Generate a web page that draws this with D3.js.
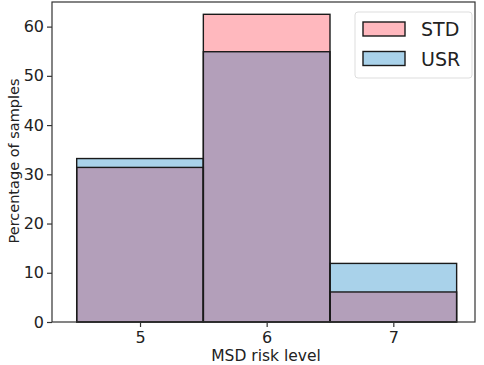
<!DOCTYPE html>
<html>
<head>
<meta charset="utf-8">
<script src="https://cdn.jsdelivr.net/npm/d3@7"></script>
<style>
  body { margin: 0; background: #fff; }
  text { font-family: 'DejaVu Sans', sans-serif; fill: #222; }
</style>
</head>
<body>
<script>
(function () {
  'use strict'

  // Data
  var levels = [5, 6, 7]
  var stdValues = [31.4, 62.5, 6.1]
  var usrValues = [33.2, 54.9, 11.9]
  var seriesNames = ['STD', 'USR']
  var yTicks = [0, 10, 20, 30, 40, 50, 60]

  var colors = { STD: '#ffb8be', USR: '#a9d2ea', both: '#b39fba' }

  var dim = { w: 484, h: 365 }
  var plot = { left: 52, right: 475, top: 2, bottom: 322 }

  var svg = d3.select('body').append('svg')
    .attr('width', dim.w)
    .attr('height', dim.h)

  var x = d3.scaleLinear().domain([4.305, 7.645]).range([plot.left, plot.right])
  var y = d3.scaleLinear().domain([0, 65]).range([plot.bottom, plot.top])

  var rows = levels.map(function (l, i) {
    return { level: l, std: stdValues[i], usr: usrValues[i] }
  })

  var g = svg.append('g')

  function bars (cls, val, fill) {
    return g.selectAll('.' + cls).data(rows).enter().append('rect')
      .attr('class', cls)
      .attr('x', function (d) { return x(d.level - 0.5) })
      .attr('width', function (d) { return x(d.level + 0.5) - x(d.level - 0.5) })
      .attr('y', function (d) { return y(val(d)) })
      .attr('height', function (d) { return y(0) - y(val(d)) })
      .attr('fill', fill)
  }

  bars('std', function (d) { return d.std }, colors.STD)
  bars('usr', function (d) { return d.usr }, colors.USR)
  bars('both', function (d) { return Math.min(d.std, d.usr) }, colors.both)

  // outlines
  bars('edge-std', function (d) { return d.std }, 'none')
    .attr('stroke', '#1a1a1a').attr('stroke-width', 1.4)
  bars('edge-usr', function (d) { return d.usr }, 'none')
    .attr('stroke', '#1a1a1a').attr('stroke-width', 1.4)

  // frame
  svg.append('rect')
    .attr('x', plot.left).attr('y', plot.top)
    .attr('width', plot.right - plot.left)
    .attr('height', plot.bottom - plot.top)
    .attr('fill', 'none').attr('stroke', '#333').attr('stroke-width', 1.2)

  // axes
  var leftAxis = d3.axisLeft(y).tickValues(yTicks).tickFormat(d3.format('d'))
    .tickSizeInner(5).tickSizeOuter(0).tickPadding(3)
  var bottomAxis = d3.axisBottom(x).tickValues(levels).tickFormat(d3.format('d'))
    .tickSizeInner(5).tickSizeOuter(0).tickPadding(5)

  var ya = svg.append('g').attr('transform', 'translate(' + plot.left + ',0)').call(leftAxis)
  var xa = svg.append('g').attr('transform', 'translate(0,' + plot.bottom + ')').call(bottomAxis)
  ;[ya, xa].forEach(function (a) {
    a.select('.domain').remove()
    a.selectAll('line').attr('stroke', '#333').attr('stroke-width', 1.2)
    a.selectAll('text').style('font-size', '16px').attr('fill', '#222')
  })

  svg.append('text')
    .attr('x', 266)
    .attr('y', 361)
    .attr('text-anchor', 'middle')
    .style('font-size', '15.5px')
    .text('MSD risk level')

  svg.append('text')
    .attr('transform', 'translate(14,' + 161 + ') rotate(-90)')
    .attr('text-anchor', 'middle')
    .attr('dominant-baseline', 'central')
    .style('font-size', '14.5px')
    .text('Percentage of samples')

  // legend
  var lg = svg.append('g').attr('transform', 'translate(355,12)')
  lg.append('rect')
    .attr('width', 117).attr('height', 66).attr('rx', 3)
    .attr('fill', '#fff').attr('stroke', '#ddd').attr('stroke-width', 1)
  seriesNames.forEach(function (name, i) {
    lg.append('rect')
      .attr('x', 8).attr('y', 10 + i * 29.5)
      .attr('width', 42).attr('height', 14)
      .attr('fill', colors[name]).attr('stroke', '#1a1a1a').attr('stroke-width', 1.4)
    lg.append('text')
      .attr('x', 66).attr('y', 17 + i * 29.5)
      .attr('dominant-baseline', 'central')
      .style('font-size', '19px')
      .text(name)
  })
}())
</script>
</body>
</html>
